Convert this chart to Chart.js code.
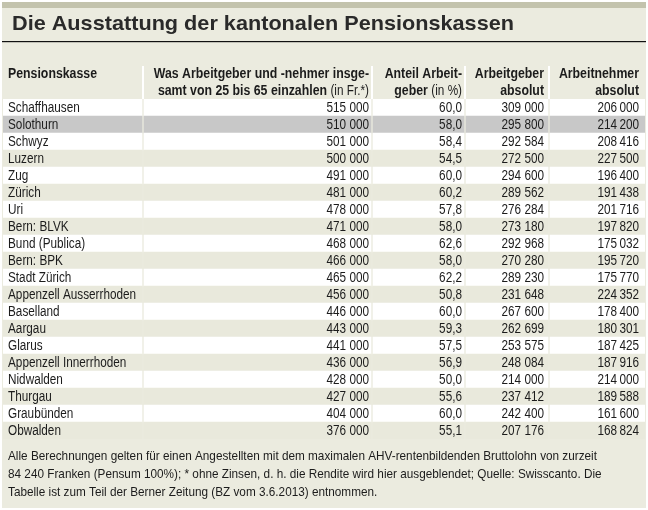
<!DOCTYPE html>
<html>
<head>
<meta charset="utf-8">
<script src="https://cdn.jsdelivr.net/npm/chart.js@4.4.1/dist/chart.umd.min.js"></script>
<style>
  html, body { margin: 0; padding: 0; background: #fff; }
  #wrap { width: 648px; height: 510px; }
</style>
</head>
<body>
<div id="wrap"><canvas id="tabelle" width="648" height="510"></canvas></div>
<script>
// Daten der Tabelle
const kassen = ['Schaffhausen','Solothurn','Schwyz','Luzern','Zug','Zürich','Uri','Bern: BLVK','Bund (Publica)','Bern: BPK','Stadt Zürich','Appenzell Ausserrhoden','Baselland','Aargau','Glarus','Appenzell Innerrhoden','Nidwalden','Thurgau','Graubünden','Obwalden'];
const total = [515000, 510000, 501000, 500000, 491000, 481000, 478000, 471000, 468000, 466000, 465000, 456000, 446000, 443000, 441000, 436000, 428000, 427000, 404000, 376000];
const anteil = [60.0, 58.0, 58.4, 54.5, 60.0, 60.2, 57.8, 58.0, 62.6, 58.0, 62.2, 50.8, 60.0, 59.3, 57.5, 56.9, 50.0, 55.6, 60.0, 55.1];
const arbeitgeber = [309000, 295800, 292584, 272500, 294600, 289562, 276284, 273180, 292968, 270280, 289230, 231648, 267600, 262699, 253575, 248084, 214000, 237412, 242400, 207176];
const arbeitnehmer = [206000, 214200, 208416, 227500, 196400, 191438, 201716, 197820, 175032, 195720, 175770, 224352, 178400, 180301, 187425, 187916, 214000, 189588, 161600, 168824];
const hervorgehoben = 'Solothurn';

const titel = 'Die Ausstattung der kantonalen Pensionskassen';
const fussnote = [
  'Alle Berechnungen gelten für einen Angestellten mit dem maximalen AHV-rentenbildenden Bruttolohn von zurzeit',
  '84 240 Franken (Pensum 100%); * ohne Zinsen, d. h. die Rendite wird hier ausgeblendet; Quelle: Swisscanto. Die',
  'Tabelle ist zum Teil der Berner Zeitung (BZ vom 3.6.2013) entnommen.'
];

// Layout (Spaltengrenzen in Einheiten der x-Achse)
const spalten = [[0, 139], [141, 368], [370, 461], [463, 545], [547, 642]];
const einzug = [0, 2, 2, 4, 6]; // Abstand Text zum rechten Zellrand
const FONT = '"Liberation Sans", Arial, sans-serif';
const SCHMAL = 0.84; // schmale Schrift nachbilden
const SCHMAL_KOPF = 0.88;
const BEIGE = '#e9e9dc';
const GRAU = '#c8c8c8';
const TEXT = '#1c1c1c';

function zahl(n, sep) {
  const s = String(n);
  return s.slice(0, s.length - 3) + sep + s.slice(-3);
}

// Text horizontal gestaucht zeichnen, gibt Breite zurück
function schreib(c, txt, x, y, align, sx) {
  const w = c.measureText(txt).width * sx;
  c.save();
  c.translate(x, y);
  c.scale(sx, 1);
  c.textAlign = align;
  c.fillText(txt, 0, 0);
  c.restore();
  return w;
}

const zellFarben = kassen.map((k, i) => k === hervorgehoben ? GRAU : (i % 2 ? BEIGE : '#ffffff'));

const datasets = spalten.map(([a, b]) => ({
  data: kassen.map(() => [a, b]),
  backgroundColor: zellFarben,
  borderWidth: 0,
  barPercentage: 1,
  categoryPercentage: 1,
  grouped: false
}));

// Plugin für Rahmen, Titel, Kopfzeile, Zellentexte und Fussnote
const tabellenPlugin = {
  id: 'tabelle',
  beforeDraw(chart) {
    const c = chart.ctx;
    c.save();
    c.fillStyle = '#ffffff';
    c.fillRect(0, 0, chart.width, chart.height);
    c.fillStyle = '#ebebdf';
    c.fillRect(2, 2, 644, 506);
    c.fillStyle = '#c3c3ad';
    c.fillRect(2, 2, 644, 6);
    // Titel, auf Breite eingepasst
    c.fillStyle = '#2a2a2a';
    c.font = 'bold 21px ' + FONT;
    c.textBaseline = 'middle';
    const sxT = 502 / c.measureText(titel).width;
    schreib(c, titel, 12, 24, 'left', sxT);
    c.fillStyle = '#111';
    c.fillRect(2, 41, 644, 1.2);
    // weisse Trennlinien im Kopf
    const x = chart.scales.x;
    c.fillStyle = '#ffffff';
    spalten.slice(1).forEach(([a]) => {
      const p = x.getPixelForValue(a);
      c.fillRect(p - 2, 66, 2, chart.chartArea.top - 66);
    });
    c.restore();
  },
  afterDatasetsDraw(chart) {
    const c = chart.ctx;
    const x = chart.scales.x, y = chart.scales.y;
    const rechts = spalten.map((s, j) => x.getPixelForValue(s[1]) - einzug[j]);
    c.save();
    c.textBaseline = 'middle';
    c.fillStyle = TEXT;

    // Kopfzeile
    const kopf = (txt, normal, xr, yy) => {
      let w = 0;
      if (normal) {
        c.font = '14px ' + FONT;
        w = schreib(c, normal, xr, yy, 'right', SCHMAL);
      }
      c.font = 'bold 14px ' + FONT;
      schreib(c, txt, xr - w, yy, 'right', SCHMAL_KOPF);
    };
    c.font = 'bold 14px ' + FONT;
    schreib(c, 'Pensionskasse', 8, 74, 'left', SCHMAL_KOPF);
    kopf('Was Arbeitgeber und -nehmer insge-', '', rechts[1], 74);
    kopf('samt von 25 bis 65 einzahlen ', '(in Fr.*)', rechts[1], 91);
    kopf('Anteil Arbeit-', '', rechts[2], 74);
    kopf('geber ', '(in %)', rechts[2], 91);
    kopf('Arbeitgeber', '', rechts[3], 74);
    kopf('absolut', '', rechts[3], 91);
    kopf('Arbeitnehmer', '', rechts[4], 74);
    kopf('absolut', '', rechts[4], 91);

    // Zellen
    c.font = '14px ' + FONT;
    kassen.forEach((k, i) => {
      const yy = y.getPixelForValue(i) + 0.5;
      schreib(c, k, 8, yy, 'left', SCHMAL);
      schreib(c, zahl(total[i], ' '), rechts[1], yy, 'right', SCHMAL);
      schreib(c, anteil[i].toFixed(1).replace('.', ','), rechts[2], yy, 'right', SCHMAL);
      schreib(c, zahl(arbeitgeber[i], ' '), rechts[3], yy, 'right', SCHMAL);
      schreib(c, zahl(arbeitnehmer[i], '\u2009'), rechts[4], yy, 'right', SCHMAL);
    });

    // Fussnote, erste Zeile bestimmt die Stauchung
    c.font = '13px ' + FONT;
    const sxF = 589 / c.measureText(fussnote[0]).width;
    fussnote.forEach((z, j) => schreib(c, z, 8, 456 + j * 18, 'left', sxF));
    c.restore();
  }
};

new Chart(document.getElementById('tabelle'), {
  type: 'bar',
  data: { labels: kassen, datasets: datasets },
  options: {
    indexAxis: 'y',
    responsive: false,
    animation: false,
    layout: { padding: { left: 3, right: 3, top: 99, bottom: 71 } },
    plugins: { legend: { display: false }, tooltip: { enabled: false }, title: { display: false } },
    scales: {
      x: { type: 'linear', min: 0, max: 642, display: false },
      y: { type: 'category', display: false }
    }
  },
  plugins: [tabellenPlugin]
});
</script>
</body>
</html>
